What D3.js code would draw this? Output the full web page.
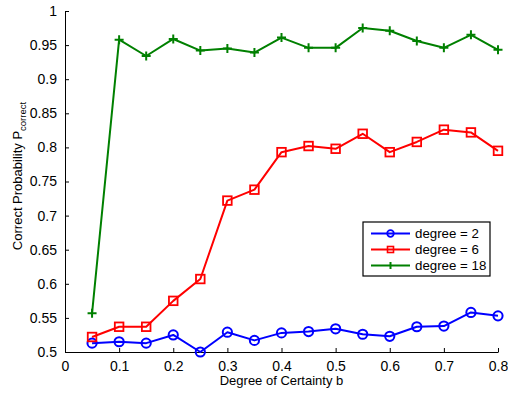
<!DOCTYPE html>
<html>
<head>
<meta charset="utf-8">
<script src="https://cdn.jsdelivr.net/npm/d3@7"></script>
<style>
  body { margin: 0; background: #fff; }
  text { font-family: "Liberation Sans", Arial, sans-serif; }
</style>
</head>
<body>
<script>
// Data
const certainty = [0.05, 0.1, 0.15, 0.2, 0.25, 0.3, 0.35, 0.4, 0.45, 0.5, 0.55, 0.6, 0.65, 0.7, 0.75, 0.8];
const degree2 = [0.513, 0.515, 0.513, 0.525, 0.500, 0.529, 0.517, 0.528, 0.530, 0.534, 0.526, 0.523, 0.537, 0.538, 0.558, 0.553];
const degree6 = [0.522, 0.537, 0.537, 0.575, 0.607, 0.722, 0.738, 0.793, 0.802, 0.798, 0.820, 0.793, 0.808, 0.826, 0.822, 0.795];
const degree18 = [0.557, 0.958, 0.934, 0.959, 0.942, 0.945, 0.939, 0.961, 0.946, 0.946, 0.975, 0.971, 0.956, 0.946, 0.965, 0.943];
const xTicks = [0, 0.1, 0.2, 0.3, 0.4, 0.5, 0.6, 0.7, 0.8];
const yTicks = [0.5, 0.55, 0.6, 0.65, 0.7, 0.75, 0.8, 0.85, 0.9, 0.95, 1];

const series = [
  {name: "degree = 2", values: degree2, color: "#0000ff", marker: "circle"},
  {name: "degree = 6", values: degree6, color: "#ff0000", marker: "square"},
  {name: "degree = 18", values: degree18, color: "#008000", marker: "plus"}
];

// Size
const width = 508, height = 394;
const margin = {left: 65, right: 10, top: 11, bottom: 42};

const svg = d3.select("body").append("svg")
  .attr("width", width)
  .attr("height", height);

const x = d3.scaleLinear().domain([0, 0.8]).range([margin.left, width - margin.right]);
const y = d3.scaleLinear().domain([0.5, 1]).range([height - margin.bottom, margin.top]);

// Axes, MATLAB style: ticks inside, no box
const xAxis = svg.append("g")
  .attr("transform", `translate(0,${height - margin.bottom})`)
  .call(d3.axisBottom(x).tickValues(xTicks).tickSizeInner(-4).tickSizeOuter(0).tickPadding(9)
    .tickFormat(d => d === 0 ? "0" : d3.format(".1f")(d)));
const yAxis = svg.append("g")
  .attr("transform", `translate(${margin.left},0)`)
  .call(d3.axisLeft(y).tickValues(yTicks).tickSizeInner(-4).tickSizeOuter(0).tickPadding(8)
    .tickFormat(d => d === 1 ? "1" : String(+d.toFixed(2))));

[xAxis, yAxis].forEach(g => {
  g.selectAll("path, line").attr("stroke", "#000").attr("stroke-width", 1);
  g.selectAll("text").attr("font-size", 14).attr("fill", "#000")
    .attr("font-family", "'Liberation Sans', Arial, sans-serif");
});

// Axis labels
svg.append("text")
  .attr("x", (margin.left + width - margin.right) / 2)
  .attr("y", 385)
  .attr("text-anchor", "middle")
  .attr("font-size", 13)
  .text("Degree of Certainty b");

const ylab = svg.append("text")
  .attr("transform", "translate(22,176) rotate(-90)")
  .attr("text-anchor", "middle")
  .attr("font-size", 13);
ylab.append("tspan").text("Correct Probability P");
ylab.append("tspan").attr("font-size", 9.5).attr("dy", 4).text("correct");

// Markers
function drawMarker(g, type, color, cx, cy) {
  if (type === "circle") {
    g.append("circle").attr("cx", cx).attr("cy", cy).attr("r", 4.6)
      .attr("fill", "none").attr("stroke", color).attr("stroke-width", 2);
  } else if (type === "square") {
    g.append("rect").attr("x", cx - 4.3).attr("y", cy - 4.3).attr("width", 8.6).attr("height", 8.6)
      .attr("fill", "none").attr("stroke", color).attr("stroke-width", 1.8);
  } else {
    g.append("path").attr("d", `M${cx - 4.5},${cy}H${cx + 4.5}M${cx},${cy - 4.5}V${cy + 4.5}`)
      .attr("stroke", color).attr("stroke-width", 2);
  }
}

const line = d3.line().x(d => x(d[0])).y(d => y(d[1]));

series.forEach(s => {
  const pts = certainty.map((c, i) => [c, s.values[i]]);
  const g = svg.append("g");
  g.append("path").datum(pts)
    .attr("d", line)
    .attr("fill", "none")
    .attr("stroke", s.color)
    .attr("stroke-width", 2)
    .attr("stroke-linejoin", "round");
  pts.forEach(p => drawMarker(g, s.marker, s.color, x(p[0]), y(p[1])));
});

// Legend
const legend = svg.append("g").attr("transform", "translate(363,222)");
legend.append("rect").attr("x", 0).attr("y", 0).attr("width", 127).attr("height", 54)
  .attr("fill", "#fff").attr("stroke", "#000").attr("stroke-width", 1.2);
series.forEach((s, i) => {
  const ly = 11.5 + i * 16;
  const lg = legend.append("g");
  lg.append("line").attr("x1", 8).attr("x2", 47).attr("y1", ly).attr("y2", ly)
    .attr("stroke", s.color).attr("stroke-width", 2);
  if (s.marker === "circle") {
    lg.append("circle").attr("cx", 27.5).attr("cy", ly).attr("r", 3.3)
      .attr("fill", "none").attr("stroke", s.color).attr("stroke-width", 1.8);
  } else if (s.marker === "square") {
    lg.append("rect").attr("x", 24.5).attr("y", ly - 3).attr("width", 6).attr("height", 6)
      .attr("fill", "none").attr("stroke", s.color).attr("stroke-width", 1.6);
  } else {
    lg.append("path").attr("d", `M27.5,${ly - 3.5}V${ly + 3.5}`)
      .attr("stroke", s.color).attr("stroke-width", 2);
  }
  lg.append("text").attr("x", 52).attr("y", ly + 4.5).attr("font-size", 13.3).text(s.name);
});
</script>
</body>
</html>
